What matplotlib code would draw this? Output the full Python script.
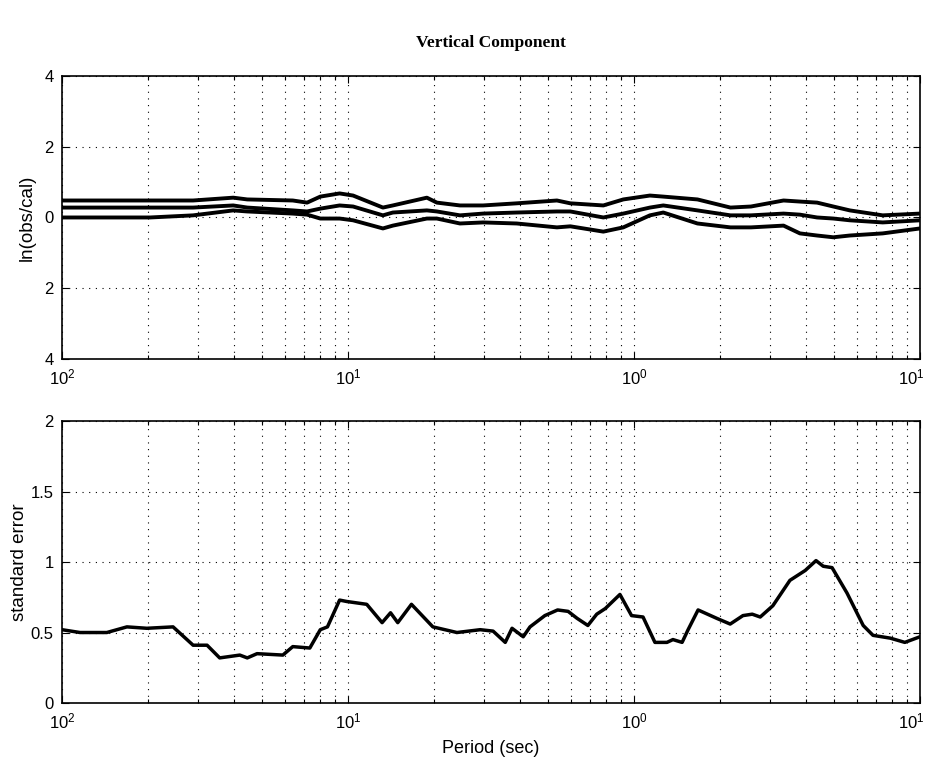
import numpy as np
import matplotlib
matplotlib.use("Agg")
import matplotlib.pyplot as plt
import matplotlib.transforms as mtransforms
from matplotlib.ticker import LogLocator, FixedLocator, NullFormatter

plt.rcParams["font.family"] = ["Liberation Sans", "DejaVu Sans"]
plt.rcParams["mathtext.fontset"] = "custom"
plt.rcParams["mathtext.rm"] = "Liberation Sans"
plt.rcParams["mathtext.it"] = "Liberation Sans"

# top panel: ln(obs/cal) mean and +/- one sigma bounds
top_period = [100, 73.6, 49.2, 34.8, 25.2, 22.5, 15.6, 13.9, 12.5, 10.7, 9.6,
              7.55, 6.97, 5.30, 4.89, 4.06, 3.37, 2.57, 1.86, 1.67, 1.28, 1.09,
              0.88, 0.79, 0.60, 0.46, 0.39, 0.30, 0.263, 0.229, 0.201, 0.176,
              0.135, 0.1]
upper = [0.48, 0.48, 0.48, 0.48, 0.56, 0.51, 0.48, 0.42, 0.59, 0.68, 0.62,
         0.28, 0.34, 0.56, 0.42, 0.34, 0.34, 0.40, 0.48, 0.40, 0.34, 0.51,
         0.62, 0.59, 0.51, 0.28, 0.31, 0.48, 0.45, 0.42, 0.31, 0.20,
         0.06, 0.11]
middle = [0.28, 0.28, 0.28, 0.28, 0.34, 0.28, 0.20, 0.17, 0.25, 0.34, 0.31,
          0.06, 0.14, 0.20, 0.17, 0.06, 0.11, 0.14, 0.17, 0.17, 0.00, 0.11,
          0.28, 0.34, 0.20, 0.06, 0.06, 0.11, 0.08, 0.00, -0.03, -0.08,
          -0.14, -0.08]
lower = [0.00, 0.00, 0.00, 0.06, 0.20, 0.17, 0.11, 0.08, -0.03, -0.03, -0.08,
         -0.31, -0.23, -0.03, -0.03, -0.17, -0.14, -0.17, -0.28, -0.25, -0.40, -0.28,
         0.06, 0.14, -0.17, -0.28, -0.28, -0.23, -0.45, -0.51, -0.56, -0.51,
         -0.45, -0.31]

# bottom panel: standard error
se_period = [100, 86.5, 69.7, 59.3, 50.5, 40.9, 34.8, 31.1, 28.1, 23.9, 22.5,
             20.8, 16.9, 15.6, 13.6, 12.5, 11.8, 10.7, 10.1, 8.6, 7.6, 7.1,
             6.7, 6.0, 5.05, 4.16, 3.45, 3.11, 2.82, 2.67, 2.44, 2.31, 2.05,
             1.85, 1.70, 1.58, 1.45, 1.35, 1.26, 1.12, 1.02, 0.93, 0.845,
             0.767, 0.731, 0.679, 0.647, 0.597, 0.513, 0.461, 0.416, 0.386,
             0.362, 0.327, 0.285, 0.252, 0.231, 0.218, 0.203, 0.180, 0.158,
             0.146, 0.127, 0.113, 0.1]
std_err = [0.52, 0.50, 0.50, 0.54, 0.53, 0.54, 0.41, 0.41, 0.32, 0.34, 0.32,
           0.35, 0.34, 0.40, 0.39, 0.52, 0.54, 0.73, 0.72, 0.70, 0.57, 0.64,
           0.57, 0.70, 0.54, 0.50, 0.52, 0.51, 0.43, 0.53, 0.47, 0.54, 0.62,
           0.66, 0.65, 0.60, 0.55, 0.63, 0.67, 0.77, 0.62, 0.61, 0.43,
           0.43, 0.45, 0.43, 0.52, 0.66, 0.60, 0.56, 0.62, 0.63,
           0.61, 0.69, 0.87, 0.94, 1.01, 0.97, 0.96, 0.78, 0.55,
           0.48, 0.46, 0.43, 0.47]

# the axis is really frequency (1/period) on a normal log scale, relabelled as period;
# tick labels as printed (minus signs are missing in the original)
x_ticks = [0.01, 0.1, 1, 10]
x_labels = ["$10^{2}$", "$10^{1}$", "$10^{0}$", "$10^{1}$"]
top_yticks = [-4, -2, 0, 2, 4]
top_ylabels = ["4", "2", "0", "2", "4"]
bot_yticks = [0, 0.5, 1, 1.5, 2]
bot_ylabels = ["0", "0.5", "1", "1.5", "2"]


def style_axis(ax):
    ax.set_xscale("log")
    ax.set_xlim(0.01, 10)
    ax.xaxis.set_major_locator(FixedLocator(x_ticks))
    ax.xaxis.set_minor_locator(LogLocator(base=10, subs=np.arange(2, 10), numticks=20))
    ax.xaxis.set_minor_formatter(NullFormatter())
    ax.set_xticklabels(x_labels)
    ax.tick_params(which="both", direction="in", top=True, right=True,
                   labelsize=12, width=0.8, pad=6)
    ax.tick_params(which="major", length=5)
    ax.tick_params(which="minor", length=3)
    ax.grid(True, which="major", axis="both", linestyle=(0, (1, 5)), color="black", linewidth=0.8)
    ax.grid(True, which="minor", axis="x", linestyle=(0, (1, 5)), color="black", linewidth=0.8)
    for sp in ax.spines.values():
        sp.set_linewidth(1.2)
    # last label sits on the figure edge; pull it in a few pixels
    last = ax.get_xticklabels()[-1]
    last.set_transform(last.get_transform() +
                       mtransforms.ScaledTranslation(-6 / 72, 0, fig.dpi_scale_trans))


fig = plt.figure(figsize=(9.31, 7.62), dpi=100)
ax1 = fig.add_axes([0.0666, 0.5289, 0.9216, 0.3714])
ax2 = fig.add_axes([0.0666, 0.0774, 0.9216, 0.3701])

top_freq = 1.0 / np.array(top_period)
se_freq = 1.0 / np.array(se_period)

style_axis(ax1)
ax1.plot(top_freq, upper, color="black", lw=2.8)
ax1.plot(top_freq, middle, color="black", lw=2.8)
ax1.plot(top_freq, lower, color="black", lw=2.8)
ax1.set_ylim(-4, 4)
ax1.set_yticks(top_yticks)
ax1.set_yticklabels(top_ylabels)
ax1.set_ylabel("ln(obs/cal)", fontsize=13.5, labelpad=6)

style_axis(ax2)
ax2.plot(se_freq, std_err, color="black", lw=2.5)
ax2.set_ylim(0, 2)
ax2.set_yticks(bot_yticks)
ax2.set_yticklabels(bot_ylabels)
ax2.set_ylabel("standard error", fontsize=13.5, labelpad=2)
ax2.set_xlabel("Period (sec)", fontsize=13, labelpad=6)

fig.text(0.527, 0.943, "Vertical Component", ha="center", va="center",
         fontsize=12.5, fontweight="bold", family="Liberation Serif")

fig.savefig("out.png", dpi=100, facecolor="white")
